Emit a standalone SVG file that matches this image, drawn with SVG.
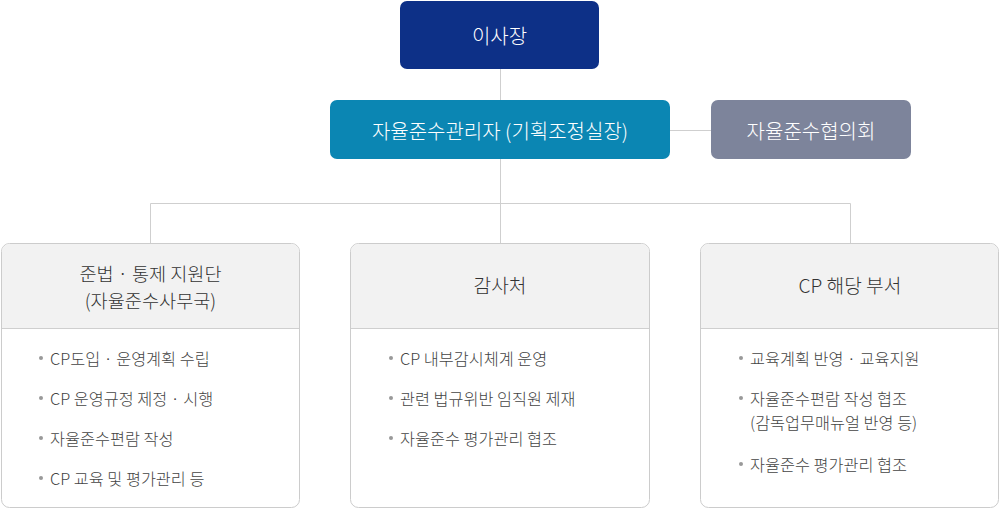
<svg xmlns="http://www.w3.org/2000/svg" width="1000" height="509" viewBox="0 0 1000 509">
<style>
text{font-family:"Noto Sans CJK KR","Noto Sans",sans-serif;font-weight:300;}
.top{fill:#fff;font-size:20px;text-anchor:middle;dominant-baseline:central;}
.hd{fill:#333;font-size:19.2px;text-anchor:middle;dominant-baseline:central;}
.hd2{font-size:18.6px;}
.it{fill:#444;font-size:16.3px;dominant-baseline:central;}
.bul{fill:#999;}
.line{stroke:#cfcfcf;stroke-width:1;fill:none;}
.box{fill:#fff;stroke:#cccccc;stroke-width:1;}
.head{fill:#f2f2f2;}
</style>
<rect width="1000" height="509" fill="#fff"/>
<g id="connectors">
<path class="line" d="M500.5 69V100M500.5 159V203.5M150.5 243V203.5H850.5V243M500.5 203.5V243M669 130.5H711"/>
</g>
<g id="chairman">
<rect x="400" y="1" width="199" height="68" rx="7" fill="#0d3087"/>
<text class="top" x="499.5" y="35">이사장</text>
</g>
<g id="manager">
<rect x="330" y="100" width="340" height="59" rx="7" fill="#0b86b3"/>
<text class="top" x="500" y="130">자율준수관리자 (기획조정실장)</text>
</g>
<g id="council">
<rect x="711" y="100" width="200" height="59" rx="7" fill="#7d849b"/>
<text class="top" x="811" y="130">자율준수협의회</text>
</g>
<g id="support">
<rect class="box" x="1.5" y="243.5" width="298" height="264" rx="8"/>
<path class="head" d="M2 328V252a8 8 0 0 1 8-8H291a8 8 0 0 1 8 8V328Z"/>
<path class="line" d="M2 328.5H299"/>
<text class="hd hd2" x="150.5" y="272">준법 · 통제 지원단</text>
<text class="hd hd2" x="150.5" y="299">(자율준수사무국)</text>
<circle class="bul" cx="41" cy="358" r="2"/>
<text class="it" x="50" y="358">CP도입 · 운영계획 수립</text>
<circle class="bul" cx="41" cy="398" r="2"/>
<text class="it" x="50" y="398">CP 운영규정 제정 · 시행</text>
<circle class="bul" cx="41" cy="438" r="2"/>
<text class="it" x="50" y="438">자율준수편람 작성</text>
<circle class="bul" cx="41" cy="478" r="2"/>
<text class="it" x="50" y="478">CP 교육 및 평가관리 등</text>
</g>
<g id="audit">
<rect class="box" x="350.5" y="243.5" width="299" height="264" rx="8"/>
<path class="head" d="M351 328V252a8 8 0 0 1 8-8H641a8 8 0 0 1 8 8V328Z"/>
<path class="line" d="M351 328.5H649"/>
<text class="hd" x="500" y="285">감사처</text>
<circle class="bul" cx="391" cy="358" r="2"/>
<text class="it" x="400" y="358">CP 내부감시체계 운영</text>
<circle class="bul" cx="391" cy="398" r="2"/>
<text class="it" x="400" y="398">관련 법규위반 임직원 제재</text>
<circle class="bul" cx="391" cy="438" r="2"/>
<text class="it" x="400" y="438">자율준수 평가관리 협조</text>
</g>
<g id="dept">
<rect class="box" x="700.5" y="243.5" width="298" height="264" rx="8"/>
<path class="head" d="M701 328V252a8 8 0 0 1 8-8H990a8 8 0 0 1 8 8V328Z"/>
<path class="line" d="M701 328.5H998"/>
<text class="hd" x="850" y="285">CP 해당 부서</text>
<circle class="bul" cx="741" cy="358" r="2"/>
<text class="it" x="750" y="358">교육계획 반영 · 교육지원</text>
<circle class="bul" cx="741" cy="398" r="2"/>
<text class="it"><tspan x="750" y="398">자율준수편람 작성 협조</tspan><tspan x="750" y="422">(감독업무매뉴얼 반영 등)</tspan></text>
<circle class="bul" cx="741" cy="464" r="2"/>
<text class="it" x="750" y="464">자율준수 평가관리 협조</text>
</g>
</svg>
